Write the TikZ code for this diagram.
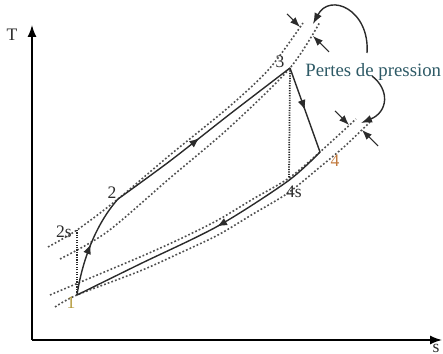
\documentclass[tikz,border=0pt]{standalone}
\usepackage{fontspec}
\setmainfont{Liberation Serif}
\usetikzlibrary{
  arrows.meta,
  decorations.markings
}
\definecolor{tsLine}{HTML}{2B2B2B}
\definecolor{tsIsobar}{HTML}{505050}
\definecolor{tsLoss}{HTML}{2E5A66}
\definecolor{tsOne}{HTML}{B49A3C}
\definecolor{tsFour}{HTML}{C27A3E}
\tikzset{
  axisArrow/.style={-{Latex[length=2.4mm,width=1.8mm]}, line width=0.8pt, black},
  isobar/.style={tsIsobar, line width=0.9pt, dash pattern=on 1pt off 1.2pt},
  isentrope/.style={tsLine, line width=1pt, dash pattern=on 0.7pt off 0.7pt},
  cycleEdge/.style={
    tsLine,
    line width=0.8pt,
    postaction={decorate},
    decoration={markings,
      mark=at position #1 with {\arrow{Latex[length=2mm,width=1.6mm]}}}
  },
  cycleEdge/.default=0.5,
  dropArrow/.style={-{Latex[length=2mm,width=1.5mm]}, line width=0.6pt, tsLine},
  lossCurve/.style={-{Latex[length=2.2mm,width=1.6mm]}, line width=0.8pt, tsLine},
  stateLabel/.style={font=\normalsize, inner sep=1pt, tsLine}
}

\begin{document}
\begin{tikzpicture}[x=0.02cm,y=-0.02cm]
  \useasboundingbox (0,0) rectangle (443,354);

  % axes
  \coordinate (O) at (32,340);
  \coordinate (Ttip) at (32,25);
  \coordinate (Stip) at (442,340);
  \draw[axisArrow] (O) -- (Ttip);
  \draw[axisArrow] (O) -- (Stip);
  \node[stateLabel] (Tlab) at (12,35) {T};
  \node[stateLabel, inner sep=0pt] (Slab) at (436,348) {s};

  % cycle states
  \coordinate (p1) at (77,295);
  \coordinate (p2s) at (77,230);
  \coordinate (p2) at (118,199);
  \coordinate (p3) at (290,68);
  \coordinate (p4s) at (289,178);
  \coordinate (p4) at (320,152);

  % isobars
  \draw[isobar] plot[smooth] coordinates
    {(48,247) (p2s) (p2) (170,155) (230,106) (270,68) (303,23)};
  \draw[isobar] plot[smooth] coordinates
    {(60,259) (107,232) (170,178) (230,127) (p3) (320,22)};
  \draw[isobar] plot[smooth] coordinates
    {(50,295) (83,281) (140,257) (180,239) (218,220) (253,199) (p4s) (p4) (356,119)};
  \draw[isobar] plot[smooth] coordinates
    {(55,307) (p1) (140,271) (180,253) (218,235) (253,214) (288,193) (320,167) (345,146) (370,122)};

  % isentropic steps
  \draw[isentrope] (p1) -- (p2s);
  \draw[isentrope] (p3) -- (p4s);

  % real cycle
  \draw[cycleEdge] (p1) .. controls (82,262) and (95,225) .. (p2);
  \draw[cycleEdge=0.47] plot[smooth] coordinates {(p2) (170,161) (230,114) (p3)};
  \draw[cycleEdge] (p3) -- (p4);
  \draw[cycleEdge=0.45] plot[smooth] coordinates {(p4) (288,181) (218,226) (140,264) (p1)};

  \node[stateLabel, text=tsOne] (lab1) at (71,303) {1};
  \node[stateLabel] (lab2s) at (64,232) {2s};
  \node[stateLabel] (lab2) at (112,193) {2};
  \node[stateLabel] (lab3) at (280,62) {3};
  \node[stateLabel] (lab4s) at (294,192) {4s};
  \node[stateLabel, text=tsFour] (lab4) at (335,161) {4};

  % pressure losses
  \node[anchor=west, inner sep=0pt, text=tsLoss, font=\fontsize{10.7}{13}\selectfont]
    (loss) at (305,72) {Pertes de pression};

  \coordinate (hpA) at (287,14);
  \coordinate (hpAtip) at (300,27);
  \coordinate (hpB) at (329,52);
  \coordinate (hpBtip) at (313,36);
  \draw[dropArrow] (hpA) -- (hpAtip);
  \draw[dropArrow] (hpB) -- (hpBtip);

  \coordinate (lpA) at (335,111);
  \coordinate (lpAtip) at (349,125);
  \coordinate (lpB) at (378,146);
  \coordinate (lpBtip) at (362,130);
  \draw[dropArrow] (lpA) -- (lpAtip);
  \draw[dropArrow] (lpB) -- (lpBtip);

  \coordinate (hpGap) at (313,24);
  \coordinate (lpGap) at (361,123);
  \draw[lossCurve] (367,53) .. controls (370,10) and (330,-8) .. (hpGap);
  \draw[lossCurve] (372,76) .. controls (390,90) and (388,112) .. (lpGap);
\end{tikzpicture}
\end{document}
